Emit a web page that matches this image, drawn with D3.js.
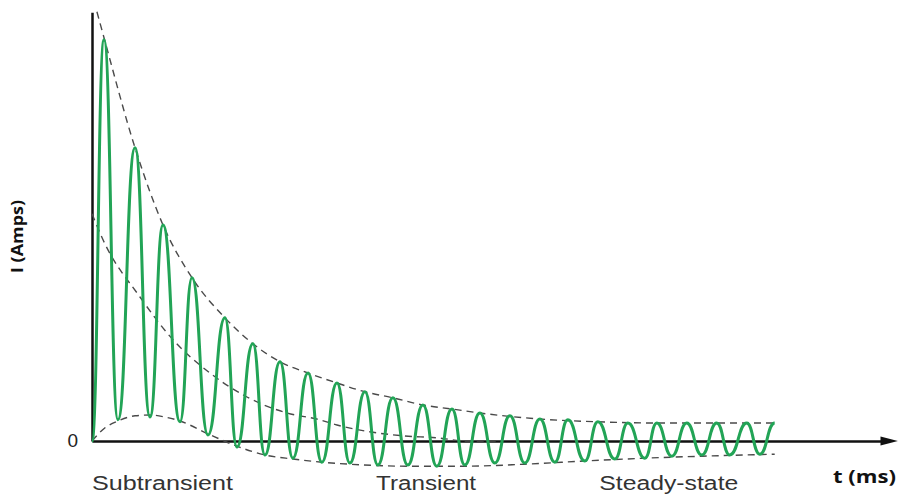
<!DOCTYPE html>
<html>
<head>
<meta charset="utf-8">
<script src="https://cdn.jsdelivr.net/npm/d3@7"></script>
<style>
  body { margin: 0; background: #fff; }
  svg { display: block; }
</style>
</head>
<body>
<svg id="chart" width="902" height="494"></svg>
<script>
// waveform: alternating trough / peak points (t in ms, current in arbitrary units)
const waveT = [0, 8.3, 17.9, 29.7, 40, 49, 60.7, 69, 80, 91.7, 100, 111, 119.3, 129.7, 138.6, 149,
  158.6, 169, 177.9, 188.3, 197.2, 207.6, 217.9, 228.3, 237.9, 248.3, 257.2, 267.6, 277.9, 288.3,
  298.6, 309, 319.3, 328.3, 340, 349, 360.7, 369.7, 381.4, 389.7, 400, 410.3, 420.7, 431, 440,
  451.7, 460.7, 471];
const waveI = [0, 10.03, 0.53, 7.33, 0.6, 5.4, 0.48, 4.08, 0.15, 3.08, -0.15, 2.43, -0.35, 1.98, -0.43, 1.7,
  -0.53, 1.45, -0.55, 1.23, -0.6, 1.08, -0.6, 0.9, -0.63, 0.8, -0.6, 0.7, -0.55, 0.63,
  -0.55, 0.55, -0.53, 0.53, -0.5, 0.48, -0.45, 0.45, -0.43, 0.45, -0.38, 0.45, -0.35, 0.45, -0.35,
  0.45, -0.33, 0.45];

// upper envelope
const upperT = [3.4, 8.3, 29.7, 49, 69, 91.7, 111, 129.7, 149, 169, 188.3, 207.6, 228.3, 248.3, 267.6, 309, 349, 389.7, 431, 471];
const upperI = [10.73, 10.08, 7.33, 5.4, 4.08, 3.08, 2.43, 1.98, 1.7, 1.45, 1.23, 1.08, 0.9, 0.8, 0.7, 0.55, 0.48, 0.45, 0.45, 0.45];

// lower envelope
const lowerT = [0, 9, 17.9, 29.7, 40, 50.3, 60.7, 80, 100, 119.3, 138.6, 158.6, 177.9, 217.9, 257.2, 298.6, 340, 381.4, 420.7, 471];
const lowerI = [0, 0.33, 0.5, 0.63, 0.65, 0.6, 0.5, 0.18, -0.13, -0.35, -0.45, -0.53, -0.58, -0.63, -0.63, -0.58, -0.5, -0.43, -0.38, -0.33];

// dc component
const dcT = [0, 7.6, 33.1, 55.9, 81.4, 106.9, 134.5, 157.2, 169, 191.7, 214.5, 237.9, 258.6, 280];
const dcI = [5.68, 5.03, 3.6, 2.53, 1.7, 1.1, 0.7, 0.53, 0.4, 0.23, 0.13, 0.08, 0, 0];

const regionLabels = ['Subtransient', 'Transient', 'Steady-state'];
const regionT = [0, 196, 350];
const regionWidth = [141, 100, 139];

const svg = d3.select('#chart');

const x = d3.scaleLinear().domain([0, 554]).range([92, 895]);
const y = d3.scaleLinear().domain([0, 10]).range([441, 41]);

const zip = (ts, vs) => ts.map((t, i) => [t, vs[i]]);

const line = d3.line()
  .x(d => x(d[0]))
  .y(d => y(d[1]))
  .curve(d3.curveMonotoneX);

// bump curve gives the rounded loop tops of the waveform
const waveLine = d3.line()
  .x(d => x(d[0]))
  .y(d => y(d[1]))
  .curve(d3.curveBumpX);

// axes (no ticks, just the lines)
const xAxisScale = d3.scaleLinear().domain([0, 545]).range([x(0), x(545)]);
svg.append('g')
  .attr('transform', `translate(0,${y(0)})`)
  .call(d3.axisBottom(xAxisScale).ticks(0).tickSizeOuter(0))
  .select('.domain')
  .attr('stroke', '#111')
  .attr('stroke-width', 2.5);

const yAxisScale = d3.scaleLinear().domain([0, 10.72]).range([y(0), y(10.72)]);
svg.append('g')
  .attr('transform', `translate(${x(0)},0)`)
  .call(d3.axisLeft(yAxisScale).ticks(0).tickSizeOuter(0))
  .select('.domain')
  .attr('stroke', '#111')
  .attr('stroke-width', 2.5);

// arrow head on time axis
svg.append('path')
  .attr('d', `M${x(544)},${y(0) - 4.5}L${x(556)},${y(0)}L${x(544)},${y(0) + 4.5}Z`)
  .attr('fill', '#111');

// dashed envelopes
[[upperT, upperI], [lowerT, lowerI], [dcT, dcI]].forEach(([ts, vs]) => {
  svg.append('path')
    .datum(zip(ts, vs))
    .attr('d', line)
    .attr('fill', 'none')
    .attr('stroke', '#4a4a4a')
    .attr('stroke-width', 1.4)
    .attr('stroke-dasharray', '7,5');
});

// current waveform
svg.append('path')
  .datum(zip(waveT, waveI))
  .attr('d', waveLine)
  .attr('fill', 'none')
  .attr('stroke', '#22a456')
  .attr('stroke-width', 3)
  .attr('stroke-linejoin', 'round');

// labels
svg.append('text')
  .attr('x', 78).attr('y', y(0) + 6)
  .attr('text-anchor', 'end')
  .style('font-family', 'Liberation Sans, Arial, sans-serif')
  .style('font-size', '19px')
  .attr('fill', '#222')
  .text('0');

regionLabels.forEach((lab, i) => {
  svg.append('text')
    .attr('x', x(regionT[i])).attr('y', 490)
    .attr('textLength', regionWidth[i])
    .attr('lengthAdjust', 'spacingAndGlyphs')
    .style('font-family', 'Liberation Sans, Arial, sans-serif')
    .style('font-size', '20px')
    .attr('fill', '#333')
    .text(lab);
});

svg.append('text')
  .attr('x', 833).attr('y', 483)
  .attr('textLength', 63)
  .attr('lengthAdjust', 'spacingAndGlyphs')
  .style('font-family', 'Open Sans, sans-serif')
  .style('font-weight', 'bold')
  .style('font-size', '17px')
  .attr('fill', '#111')
  .text('t (ms)');

svg.append('text')
  .attr('transform', 'translate(23,273) rotate(-90)')
  .attr('textLength', 73)
  .attr('lengthAdjust', 'spacingAndGlyphs')
  .style('font-family', 'Open Sans, sans-serif')
  .style('font-weight', 'bold')
  .style('font-size', '16px')
  .attr('fill', '#111')
  .text('I (Amps)');
</script>
</body>
</html>
